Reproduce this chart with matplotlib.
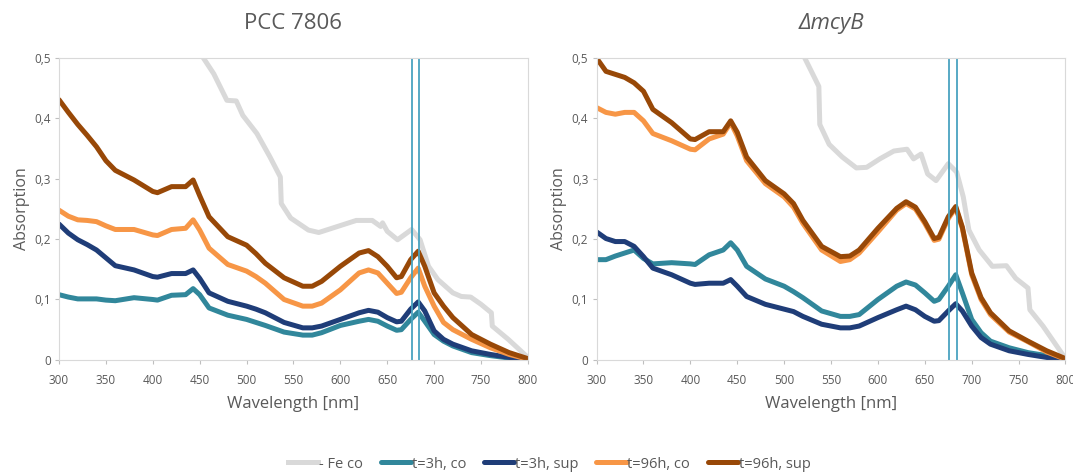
import matplotlib
matplotlib.use("Agg")
import matplotlib.pyplot as plt
from matplotlib.ticker import FuncFormatter

plt.rcParams['font.family'] = ['Open Sans', 'DejaVu Sans']

# Wellenlaengen (gemeinsames Raster fuer die vier Proben)
wl = [300, 310, 320, 330, 340, 350, 360, 380, 400, 405, 420, 435, 443, 450, 460,
      480, 500, 510, 520, 540, 560, 570, 580, 600, 620, 630, 640, 650, 660, 665,
      675, 683, 690, 700, 710, 720, 740, 760, 780, 800]

# PCC 7806
wt_3h_co = [0.108, 0.104, 0.101, 0.101, 0.101, 0.099, 0.098, 0.103, 0.100, 0.099, 0.107, 0.108, 0.118, 0.108, 0.086,
            0.074, 0.067, 0.062, 0.057, 0.046, 0.041, 0.041, 0.045, 0.057, 0.064, 0.067, 0.064, 0.056, 0.049, 0.050,
            0.067, 0.079, 0.064, 0.042, 0.031, 0.023, 0.012, 0.007, 0.003, 0.0]
wt_3h_sup = [0.225, 0.210, 0.199, 0.191, 0.182, 0.169, 0.156, 0.149, 0.138, 0.137, 0.143, 0.143, 0.149, 0.135, 0.111,
             0.097, 0.089, 0.084, 0.078, 0.062, 0.053, 0.053, 0.056, 0.067, 0.078, 0.082, 0.079, 0.070, 0.063, 0.064,
             0.084, 0.096, 0.081, 0.048, 0.034, 0.026, 0.015, 0.009, 0.004, 0.0]
wt_96h_co = [0.248, 0.238, 0.232, 0.231, 0.229, 0.222, 0.216, 0.216, 0.207, 0.206, 0.216, 0.218, 0.232, 0.215, 0.185,
             0.158, 0.147, 0.138, 0.127, 0.100, 0.089, 0.089, 0.094, 0.116, 0.144, 0.149, 0.144, 0.127, 0.110, 0.112,
             0.136, 0.152, 0.122, 0.089, 0.062, 0.050, 0.034, 0.020, 0.009, 0.001]
wt_96h_sup = [0.431, 0.410, 0.390, 0.372, 0.353, 0.330, 0.314, 0.298, 0.279, 0.277, 0.287, 0.287, 0.298, 0.272, 0.237,
              0.204, 0.190, 0.176, 0.160, 0.136, 0.122, 0.122, 0.130, 0.155, 0.177, 0.181, 0.171, 0.155, 0.136, 0.138,
              0.166, 0.180, 0.155, 0.111, 0.089, 0.070, 0.042, 0.026, 0.012, 0.002]
wl_fe_wt = [440, 454, 465, 479, 489, 496, 511, 525, 536, 537, 547, 566, 577, 603, 617, 634, 643, 645, 650, 661,
            676, 685, 694, 704, 720, 729, 739, 750, 761, 762, 779, 800]
wt_fe_co = [0.56, 0.5, 0.474, 0.43, 0.429, 0.405, 0.375, 0.336, 0.303, 0.259, 0.235, 0.215, 0.211, 0.224, 0.231,
            0.231, 0.221, 0.227, 0.213, 0.199, 0.216, 0.199, 0.155, 0.133, 0.111, 0.105, 0.104, 0.092, 0.078, 0.056,
            0.034, 0.004]

# dmcyB
mu_3h_co = [0.166, 0.166, 0.172, 0.177, 0.182, 0.168, 0.159, 0.161, 0.159, 0.158, 0.174, 0.182, 0.194, 0.182, 0.155,
            0.134, 0.122, 0.113, 0.103, 0.081, 0.072, 0.072, 0.075, 0.100, 0.122, 0.129, 0.124, 0.111, 0.097, 0.100,
            0.122, 0.141, 0.111, 0.067, 0.045, 0.031, 0.020, 0.012, 0.007, 0.001]
mu_3h_sup = [0.212, 0.201, 0.196, 0.196, 0.188, 0.171, 0.152, 0.141, 0.127, 0.125, 0.127, 0.127, 0.133, 0.122, 0.105,
             0.092, 0.084, 0.080, 0.072, 0.059, 0.053, 0.053, 0.056, 0.070, 0.083, 0.089, 0.083, 0.072, 0.064, 0.065,
             0.081, 0.093, 0.081, 0.056, 0.037, 0.026, 0.015, 0.009, 0.004, 0.0]
mu_96h_co = [0.418, 0.410, 0.407, 0.410, 0.410, 0.396, 0.375, 0.363, 0.349, 0.348, 0.366, 0.374, 0.393, 0.371, 0.330,
             0.292, 0.270, 0.253, 0.226, 0.182, 0.163, 0.166, 0.177, 0.212, 0.248, 0.259, 0.250, 0.226, 0.198, 0.200,
             0.234, 0.252, 0.218, 0.141, 0.100, 0.075, 0.046, 0.030, 0.013, 0.001]
mu_96h_sup = [0.500, 0.478, 0.473, 0.468, 0.459, 0.445, 0.415, 0.393, 0.366, 0.365, 0.378, 0.378, 0.396, 0.377, 0.336,
              0.297, 0.275, 0.259, 0.231, 0.188, 0.171, 0.172, 0.182, 0.218, 0.251, 0.262, 0.253, 0.229, 0.201, 0.203,
              0.237, 0.254, 0.220, 0.144, 0.103, 0.078, 0.048, 0.031, 0.015, 0.002]
wl_fe_mu = [510, 522, 530, 537, 538, 548, 562, 577, 588, 602, 617, 631, 638, 646, 653, 662, 675, 684, 691, 697,
            708, 722, 737, 747, 760, 762, 776, 800]
mu_fe_co = [0.56, 0.5, 0.475, 0.453, 0.39, 0.357, 0.336, 0.318, 0.319, 0.333, 0.346, 0.349, 0.333, 0.341, 0.308,
            0.297, 0.325, 0.311, 0.27, 0.215, 0.182, 0.155, 0.156, 0.135, 0.119, 0.083, 0.056, 0.002]

markers_nm = [676, 684]
labels = ['- Fe co', 't=3h, co', 't=3h, sup', 't=96h, co', 't=96h, sup']
colors = ['#d9d9d9', '#31879b', '#1f3d78', '#f79646', '#984807']

fig = plt.figure(figsize=(10.73, 4.76), dpi=100)
ax1 = fig.add_axes([0.055, 0.244, 0.437, 0.634])
ax2 = fig.add_axes([0.556, 0.244, 0.437, 0.634])

panels = [
    (ax1, 'PCC 7806', 'normal', wl_fe_wt, wt_fe_co, [wt_3h_co, wt_3h_sup, wt_96h_co, wt_96h_sup]),
    (ax2, 'ΔmcyB', 'italic', wl_fe_mu, mu_fe_co, [mu_3h_co, mu_3h_sup, mu_96h_co, mu_96h_sup]),
]

fmt = FuncFormatter(lambda v, p: '0' if v == 0 else ('%.1f' % v).replace('.', ','))

for ax, title, style, wl_fe, fe, series in panels:
    ax.plot(wl_fe, fe, color=colors[0], lw=3.6, label=labels[0], solid_joinstyle='round')
    for s, c, lab in zip(series, colors[1:], labels[1:]):
        ax.plot(wl, s, color=c, lw=3.6, label=lab, solid_joinstyle='round', solid_capstyle='round')
    for m in markers_nm:
        ax.axvline(m, color='#4aa3c0', lw=1.3)
    ax.set_xlim(300, 800)
    ax.set_ylim(0, 0.5)
    ax.set_xticks(range(300, 801, 50))
    ax.set_yticks([0, 0.1, 0.2, 0.3, 0.4, 0.5])
    ax.yaxis.set_major_formatter(fmt)
    ax.tick_params(length=3, width=0.8, color='#bfbfbf', labelsize=8.5, labelcolor='#595959')
    ax.tick_params(axis='x', pad=7)
    ax.tick_params(axis='y', pad=3)
    for sp in ax.spines.values():
        sp.set_color('#d9d9d9')
    ax.set_title(title, fontsize=16, style=style, color='#595959', pad=21)
    ax.set_xlabel('Wavelength [nm]', fontsize=12, color='#595959', labelpad=7)
    ax.set_ylabel('Absorption', fontsize=11.5, color='#595959', labelpad=3)

h, l = ax1.get_legend_handles_labels()
fig.legend(h, l, loc='center', bbox_to_anchor=(0.512, 0.025), ncol=5, frameon=False,
           fontsize=10.5, handlelength=2.1, handletextpad=0.05, columnspacing=1.2, labelcolor='#595959')

fig.savefig('out.png', dpi=100)
